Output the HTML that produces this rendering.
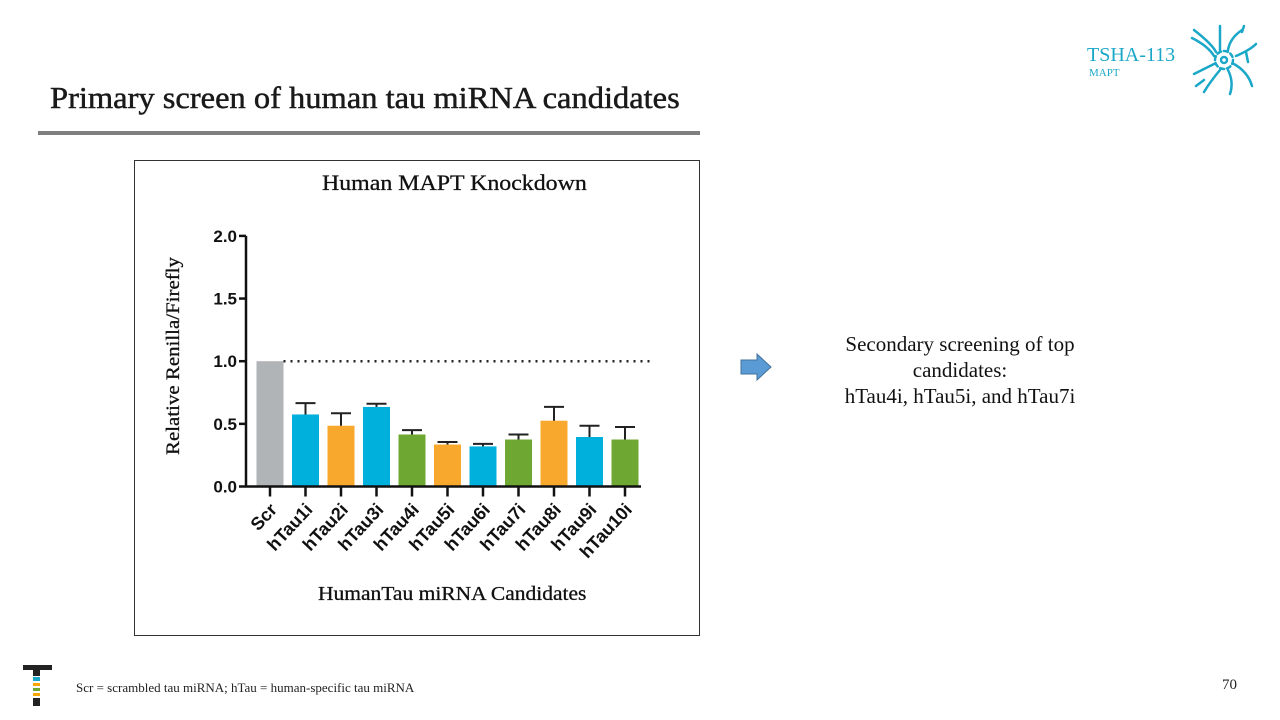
<!DOCTYPE html>
<html><head><meta charset="utf-8"><style>
body{margin:0;width:1280px;height:720px;background:#fff;position:relative;overflow:hidden;font-family:"Liberation Serif",serif}
.abs{position:absolute}
</style></head><body>
<div class="abs" style="left:50px;top:80px;font-size:31px;color:#1a1a1a;-webkit-text-stroke:0.5px #1a1a1a;white-space:nowrap;transform-origin:left top;transform:scaleX(1.048)">Primary screen of human tau miRNA candidates</div>
<div class="abs" style="left:38px;top:131px;width:662px;height:4px;background:#7f7f7f"></div>
<div class="abs" style="left:1087px;top:44px;font-size:20px;color:#1aa7c8">TSHA-113</div>
<div class="abs" style="left:1089px;top:67px;font-size:11px;color:#1aa7c8">MAPT</div>
<svg class="abs" style="left:1190px;top:24px" width="70" height="72" viewBox="0 0 70 72">
<g fill="none" stroke="#1aa7c8" stroke-width="2.5" stroke-linecap="round">
<circle cx="34" cy="36" r="9" stroke-dasharray="4 3"/><circle cx="34" cy="36" r="3"/>
<path d="M4 6 Q22 20 26 28 M2 14 Q18 22 24 32 M30 2 Q30 18 30 26 M38 26 Q40 14 52 6 M46 32 Q60 26 66 20 M44 40 Q58 48 62 62 M38 46 Q44 58 40 70 M30 46 Q20 58 14 68 M24 40 Q12 46 4 50 M56 28 L58 38 M14 56 L6 62 M54 2 L52 8"/>
</g></svg>
<div class="abs" style="left:134px;top:160px;width:564px;height:474px;border:1px solid #333"></div>
<div class="abs" style="left:322px;top:170px;font-size:22px;color:#111;-webkit-text-stroke:0.3px #111;white-space:nowrap;transform-origin:left top;transform:scaleX(1.085)">Human MAPT Knockdown</div>
<div class="abs" style="left:318px;top:583px;font-size:20px;color:#111;-webkit-text-stroke:0.3px #111;white-space:nowrap;transform-origin:left top;transform:scaleX(1.075)">HumanTau miRNA Candidates</div>
<div class="abs" style="left:174px;top:356px;font-size:19px;color:#111;-webkit-text-stroke:0.3px #111;transform:translate(-50%,-50%) rotate(-90deg) scaleX(1.1);white-space:nowrap">Relative Renilla/Firefly</div>
<svg class="abs" id="chart" style="left:0;top:0" width="700" height="600"></svg>
<svg class="abs" style="left:739px;top:352px" width="34" height="30"><path d="M2 8 H18 V2 L32 15 L18 28 V22 H2 Z" fill="#5b9bd5" stroke="#41719c" stroke-width="1"/></svg>
<div class="abs" style="left:810px;top:331px;width:300px;text-align:center;font-size:21px;line-height:26px;color:#111">Secondary screening of top candidates:<br>hTau4i, hTau5i, and hTau7i</div>
<div class="abs" style="left:23px;top:665px;width:29px;height:5px;background:#222"></div>
<div class="abs" style="left:33px;top:670px;width:7px;height:36px;background:linear-gradient(#222 0 6px,#fff 6px 7px,#1aa7c8 7px 11px,#fff 11px 13px,#f6a800 13px 16px,#fff 16px 18px,#6fa832 18px 21px,#fff 21px 23px,#f6a800 23px 26px,#fff 26px 28px,#222 28px)"></div>
<div class="abs" style="left:76px;top:680px;font-size:13px;color:#222">Scr = scrambled tau miRNA; hTau = human-specific tau miRNA</div>
<div class="abs" style="left:1222px;top:677px;font-size:15px;color:#222">70</div>
<script>
const categories=["Scr","hTau1i","hTau2i","hTau3i","hTau4i","hTau5i","hTau6i","hTau7i","hTau8i","hTau9i","hTau10i"];
const values=[1.0,0.575,0.485,0.635,0.415,0.335,0.32,0.375,0.525,0.395,0.375];
const errors=[0,0.09,0.1,0.025,0.035,0.02,0.02,0.04,0.11,0.09,0.1];
const colors=["#b1b4b6","#00b0dc","#f8a82c","#00b0dc","#6ea832","#f8a82c","#00b0dc","#6ea832","#f8a82c","#00b0dc","#6ea832"];
const yTicks=[0,0.5,1.0,1.5,2.0];
const refLine=1.0;
const svg=document.getElementById('chart');const NS='http://www.w3.org/2000/svg';
const y0=486.5,ppu=125.3,x0=270,step=35.5,bw=27,axX=246;
const Y=v=>y0-v*ppu, X=i=>x0+i*step;
function mk(t,a,p){const e=document.createElementNS(NS,t);for(const k in a)e.setAttribute(k,a[k]);(p||svg).appendChild(e);return e;}
categories.forEach((c,i)=>{
 const r=mk('rect',{x:X(i)-bw/2,y:Y(values[i]),width:bw,height:y0-Y(values[i]),fill:colors[i]});
 
 
 if(errors[i]>0){
  const g=mk('path',{d:`M${X(i)} ${Y(values[i])}V${Y(values[i]+errors[i])}M${X(i)-10} ${Y(values[i]+errors[i])}H${X(i)+10}`,stroke:'#222','stroke-width':2,fill:'none'});
  
  
 }
 mk('line',{x1:X(i),x2:X(i),y1:y0,y2:y0+10,stroke:'#111','stroke-width':2.5});
 const t=mk('text',{x:X(i)+8,y:y0+24,'text-anchor':'end','font-family':'Liberation Sans, sans-serif','font-weight':'bold','font-size':18,fill:'#111',transform:`rotate(-47 ${X(i)+8} ${y0+24})`});
 t.textContent=c;
 
 
});
const ref=mk('line',{x1:X(0)+bw/2,x2:650,y1:Y(refLine),y2:Y(refLine),stroke:'#222','stroke-width':2.5,'stroke-dasharray':'2 5'});


mk('line',{x1:axX,x2:axX,y1:Y(2),y2:y0+1,stroke:'#111','stroke-width':2.5});
mk('line',{x1:axX,x2:641,y1:y0,y2:y0,stroke:'#111','stroke-width':2.5});
yTicks.forEach(v=>{
 mk('line',{x1:axX-7,x2:axX,y1:Y(v),y2:Y(v),stroke:'#111','stroke-width':2.5});
 const t=mk('text',{x:axX-9,y:Y(v)+6,'text-anchor':'end','font-family':'Liberation Sans, sans-serif','font-weight':'bold','font-size':17,fill:'#111'});
 t.textContent=v.toFixed(1);
 
 
});
</script>
</body></html>
